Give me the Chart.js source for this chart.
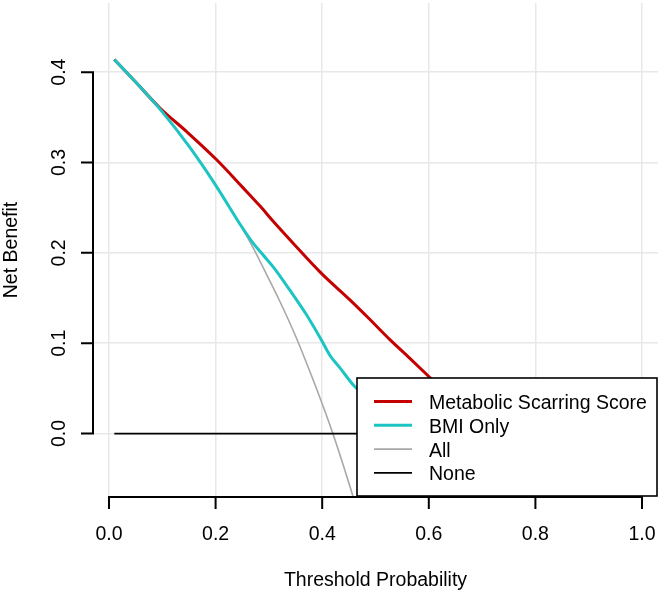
<!DOCTYPE html>
<html>
<head>
<meta charset="utf-8">
<script src="https://cdn.jsdelivr.net/npm/chart.js@4"></script>
<style>
  html, body { margin: 0; padding: 0; background: #fff; }
  #wrap { width: 661px; height: 594px; position: relative; }
</style>
</head>
<body>
<div id="wrap"><canvas id="output"></canvas></div>
<script>
// values
const metabolicX = [0.01, 0.05, 0.096, 0.146, 0.202, 0.25, 0.283, 0.308, 0.345, 0.399, 0.452, 0.49, 0.527, 0.565, 0.602, 0.64];
const metabolicNB = [0.414, 0.389, 0.360, 0.334, 0.303, 0.273, 0.252, 0.235, 0.211, 0.177, 0.148, 0.126, 0.104, 0.083, 0.062, 0.040];

const bmiX = [0.01, 0.05, 0.10, 0.15, 0.20, 0.25, 0.27, 0.29, 0.308, 0.339, 0.37, 0.399, 0.414, 0.433, 0.461, 0.48];
const bmiNB = [0.414, 0.389, 0.356, 0.318, 0.275, 0.228, 0.211, 0.197, 0.1845, 0.159, 0.132, 0.103, 0.087, 0.073, 0.052, 0.042];

const allX = [0.01, 0.05, 0.10, 0.15, 0.20, 0.25, 0.27, 0.30, 0.32, 0.35, 0.38, 0.40, 0.42, 0.44, 0.46, 0.48];
const allNB = [0.414, 0.389, 0.356, 0.318, 0.275, 0.227, 0.206, 0.171, 0.147, 0.108, 0.064, 0.033, 0.0, -0.036, -0.074, -0.115];

const noneX = [0.01, 1.0];
const noneNB = [0, 0];

const xTicks = [0, 0.2, 0.4, 0.6, 0.8, 1.0];
const xTickLabels = ['0.0', '0.2', '0.4', '0.6', '0.8', '1.0'];
const yTicks = [0, 0.1, 0.2, 0.3, 0.4];
const yTickLabels = ['0.0', '0.1', '0.2', '0.3', '0.4'];

const seriesNames = ['Metabolic Scarring Score', 'BMI Only', 'All', 'None'];
const seriesColors = ['#c40000', '#1cc4c4', '#a8a8a8', '#000000'];
const seriesWidths = [3, 3, 1.6, 1.8];

const FONT = '19.5px "Liberation Sans", Arial, sans-serif';

function toPoints(xs, ys) {
    return xs.map((v, i) => ({ x: v, y: ys[i] }));
}

// R style axes, titles and legend box
const rDecor = {
    id: 'rDecor',
    afterDatasetsDraw(chart) {
        const { ctx, chartArea } = chart;
        const xs = chart.scales.x;
        const ys = chart.scales.y;
        ctx.save();

        // axis lines and tick marks
        ctx.strokeStyle = '#000';
        ctx.lineWidth = 2;
        const bottom = chartArea.bottom;
        const left = chartArea.left;
        ctx.beginPath();
        ctx.moveTo(xs.getPixelForValue(xTicks[0]) - 1, bottom);
        ctx.lineTo(xs.getPixelForValue(xTicks[xTicks.length - 1]) + 1, bottom);
        xTicks.forEach(v => {
            const px = xs.getPixelForValue(v);
            ctx.moveTo(px, bottom);
            ctx.lineTo(px, bottom + 12);
        });
        ctx.moveTo(left, ys.getPixelForValue(yTicks[0]) + 1);
        ctx.lineTo(left, ys.getPixelForValue(yTicks[yTicks.length - 1]) - 1);
        yTicks.forEach(v => {
            const py = ys.getPixelForValue(v);
            ctx.moveTo(left, py);
            ctx.lineTo(left - 12, py);
        });
        ctx.stroke();

        // tick labels
        ctx.fillStyle = '#000';
        ctx.font = FONT;
        ctx.textAlign = 'center';
        ctx.textBaseline = 'alphabetic';
        xTicks.forEach((v, i) => {
            ctx.fillText(xTickLabels[i], xs.getPixelForValue(v), bottom + 43);
        });
        yTicks.forEach((v, i) => {
            ctx.save();
            ctx.translate(left - 28, ys.getPixelForValue(v));
            ctx.rotate(-Math.PI / 2);
            ctx.fillText(yTickLabels[i], 0, 0);
            ctx.restore();
        });

        // axis titles
        ctx.fillText('Threshold Probability', (chartArea.left + chartArea.right) / 2, bottom + 89);
        ctx.save();
        ctx.translate(17, (chartArea.top + chartArea.bottom) / 2);
        ctx.rotate(-Math.PI / 2);
        ctx.fillText('Net Benefit', 0, 0);
        ctx.restore();

        // legend box, bottom right
        const bw = 300, bh = 118;
        const bx = chartArea.right - 1 - bw;
        const by = bottom - 1 - bh;
        ctx.fillStyle = '#fff';
        ctx.fillRect(bx, by, bw, bh);
        ctx.lineWidth = 1.6;
        ctx.strokeStyle = '#000';
        ctx.strokeRect(bx, by, bw, bh);
        ctx.textAlign = 'left';
        seriesNames.forEach((name, i) => {
            const base = by + 31 + i * 23.8;
            ctx.strokeStyle = seriesColors[i];
            ctx.lineWidth = seriesWidths[i];
            ctx.beginPath();
            ctx.moveTo(bx + 17, base - 7.5);
            ctx.lineTo(bx + 55, base - 7.5);
            ctx.stroke();
            ctx.fillStyle = '#000';
            ctx.fillText(name, bx + 72, base);
        });

        ctx.restore();
    }
};

function createChart() {
    const ctx = document.getElementById('output').getContext('2d');

    const line = (label, pts, i) => ({
        label: label,
        data: pts,
        borderColor: seriesColors[i],
        borderWidth: seriesWidths[i],
        pointRadius: 0,
        fill: false,
        cubicInterpolationMode: 'monotone'
    });

    // first dataset is drawn on top
    new Chart(ctx, {
        type: 'line',
        data: {
            datasets: [
                line(seriesNames[1], toPoints(bmiX, bmiNB), 1),
                line(seriesNames[0], toPoints(metabolicX, metabolicNB), 0),
                line(seriesNames[3], toPoints(noneX, noneNB), 3),
                line(seriesNames[2], toPoints(allX, allNB), 2)
            ]
        },
        options: {
            responsive: true,
            maintainAspectRatio: false,
            animation: false,
            layout: { padding: { left: 93, right: 3, top: 3, bottom: 97 } },
            plugins: { legend: { display: false }, tooltip: { enabled: false } },
            scales: {
                x: {
                    type: 'linear',
                    min: -0.03,
                    max: 1.03,
                    border: { display: false },
                    grid: { color: '#e8e8e8', lineWidth: 1.5, drawTicks: false },
                    ticks: { display: false, stepSize: 0.2, includeBounds: false }
                },
                y: {
                    type: 'linear',
                    min: -0.0702,
                    max: 0.4765,
                    border: { display: false },
                    grid: { color: '#e8e8e8', lineWidth: 1.5, drawTicks: false },
                    ticks: { display: false, stepSize: 0.1, includeBounds: false }
                }
            }
        },
        plugins: [rDecor]
    });
}

createChart();
</script>
</body>
</html>
